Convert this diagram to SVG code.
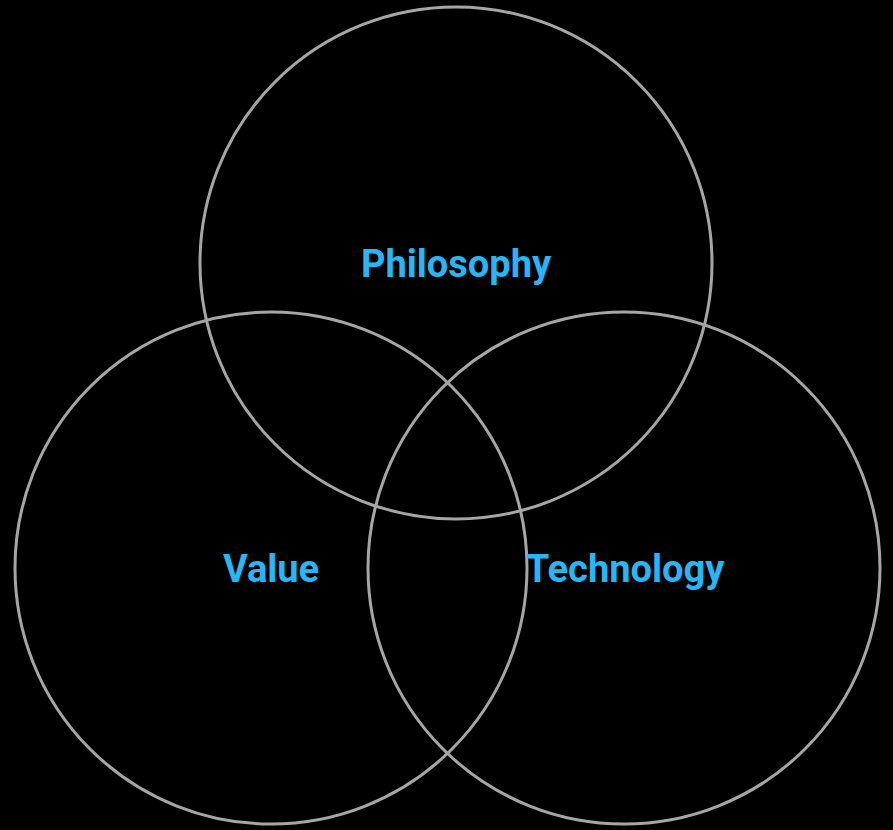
<svg xmlns="http://www.w3.org/2000/svg" width="893" height="830" viewBox="0 0 893 830">
<style>
.c{fill:none;stroke:#a6a6a6;stroke-width:3}
.t{font-family:Roboto,"Liberation Sans",sans-serif;font-weight:bold;font-size:38px;fill:#29b6f6;text-anchor:middle}
</style>
<rect width="893" height="830" fill="#000"/>
<g id="philosophy"><circle class="c" cx="456" cy="263" r="256"/><text class="t" x="456" y="277">Philosophy</text></g>
<g id="value"><circle class="c" cx="271" cy="568" r="256"/><text class="t" x="271" y="582">Value</text></g>
<g id="technology"><circle class="c" cx="624" cy="568" r="256"/><text class="t" x="625" y="582">Technology</text></g>
<g id="connectors"></g>
</svg>
